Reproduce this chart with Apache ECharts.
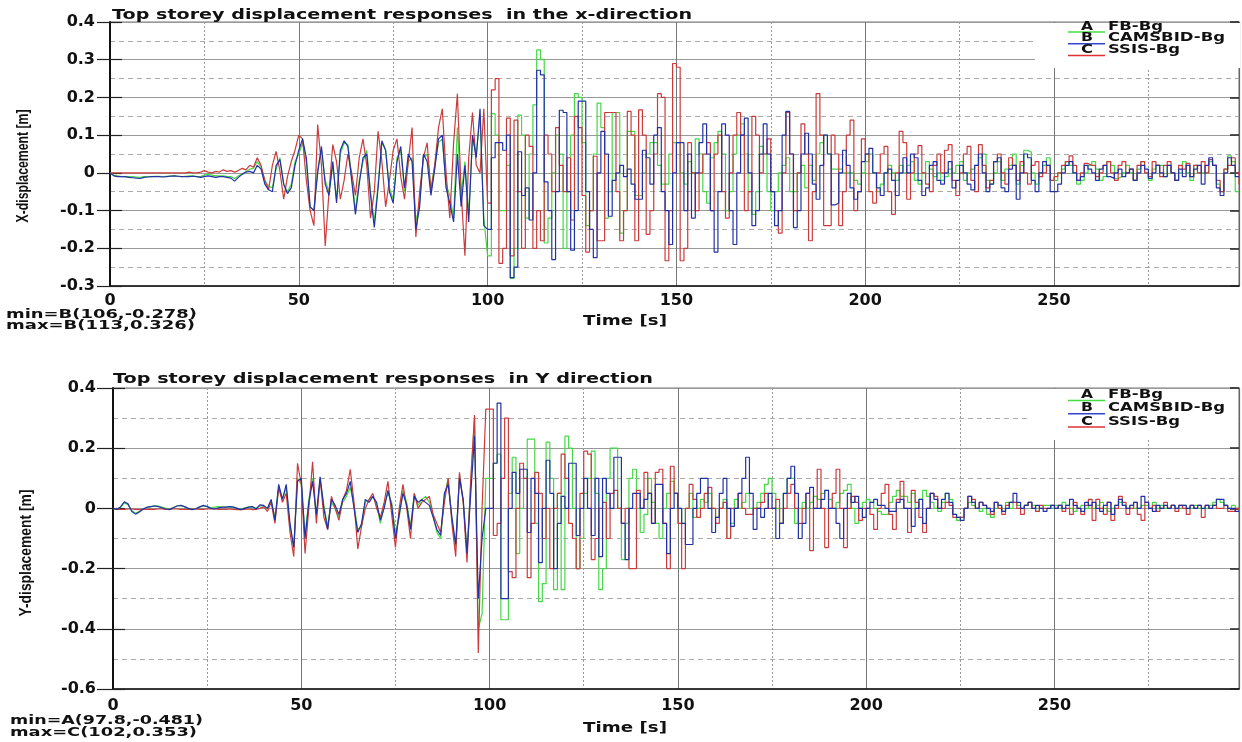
<!DOCTYPE html>
<html><head><meta charset="utf-8">
<script src="https://cdn.jsdelivr.net/npm/echarts@6/dist/echarts.min.js"></script>
<style>html,body{margin:0;padding:0;background:#fff}#c{width:1242px;height:742px}</style>
</head><body><div id="c"></div>
<script>
// sampling grid (s): one sample per second, 0..299
const timeStep = 1;
const time = Array.from({length: 300}, (_, i) => i * timeStep);

// ---------- X-direction (top panel), metres ----------
const xFB = [
0,-.006,-.008,-.01,-.01,-.01,-.01,-.011,-.012,-.01,
-.01,-.01,-.009,-.009,-.01,-.009,-.008,-.008,-.009,-.01,
-.009,-.008,-.008,-.01,-.01,-.006,-.004,-.006,-.008,-.008,
-.008,-.01,-.01,-.015,-.008,-.003,.003,.01,.012,.03,
.015,-.02,-.035,-.04,.01,.04,-.03,-.05,-.03,.03,
.05,.08,.03,-.09,-.1,.01,.06,-.02,-.05,.02,
-.07,.05,.08,.075,-.01,-.1,-.02,.03,.06,-.05,
-.13,-.03,.08,.06,-.04,-.07,.04,.06,-.05,.03,
.04,-.13,-.08,.04,.05,-.04,.02,.08,.09,-.03,
-.06,-.12,.12,-.06,.03,-.11,.09,.05,.15,-.12,
-.22,.157,.1,-.1,-.1,.02,-.28,-.2,.153,.1,
-.12,.05,.18,.326,.3,-.186,-.12,0,.1,.05,
-.2,-.05,.1,.21,.2,.08,-.14,-.1,.05,.185,
.12,-.12,-.05,.16,.16,-.16,-.1,.11,.11,-.06,
-.06,0,.05,.08,.08,.02,-.03,-.03,.05,.08,
.08,0,-.03,.03,0,.09,.05,-.05,-.08,.04,
.08,.11,.05,-.1,-.05,.05,.1,.13,.05,-.05,
-.11,-.05,.07,.05,-.05,-.1,-.05,0,.02,.04,
-.05,-.05,0,.02,-.04,.02,-.02,.05,.08,.1,
.05,.01,.01,.01,0,0,0,-.02,-.03,0,
.03,.05,0,-.05,-.03,0,.02,0,-.02,.02,
0,.02,.03,-.02,-.03,0,.03,.01,-.01,0,
-.02,-.01,.01,0,.02,.03,-.02,0,.01,.02,
.04,.05,-.02,-.03,0,.03,-.02,.01,.02,.05,
-.03,.02,.06,.055,0,-.03,0,.02,.04,-.02,
-.02,0,.01,.03,.02,0,-.03,-.02,0,.02,
.03,.01,-.02,-.01,.03,.02,-.015,-.01,0,.02,
0,-.02,.01,.03,0,-.02,.01,.02,.02,-.01,
.02,0,-.02,0,.03,0,-.02,.02,0,0,
0,.03,.02,-.03,-.05,.01,.045,.03,-.05,-.05];

const xCAMSBID = [
0,-.008,-.01,-.01,-.01,-.012,-.013,-.014,-.015,-.012,
-.011,-.01,-.01,-.01,-.011,-.01,-.009,-.008,-.009,-.01,
-.01,-.01,-.009,-.01,-.012,-.01,-.008,-.01,-.012,-.01,
-.01,-.012,-.014,-.022,-.012,-.004,.002,.004,0,.02,
.01,-.03,-.045,-.05,.02,.035,-.03,-.055,-.04,.02,
.06,.09,.04,-.09,-.1,0,.07,-.03,-.06,.03,
-.08,.06,.085,.07,-.02,-.11,-.03,.04,.05,-.06,
-.145,-.04,.085,.06,-.05,-.08,.03,.07,-.04,.05,
.03,-.15,-.09,.05,.03,-.06,.01,.09,.1,-.04,
-.08,-.13,.05,-.09,.02,-.13,.1,.04,.17,-.14,
-.15,.04,.08,.08,.06,.1,-.278,-.25,.056,-.06,
-.04,-.125,0,.272,.26,-.024,-.1,-.23,-.05,.166,
.16,-.05,-.205,-.1,.19,.19,-.05,-.15,-.225,0,
.11,.05,-.115,-.02,0,.02,-.01,.01,-.03,-.07,
-.07,.06,.04,-.03,.1,.12,-.05,-.1,-.19,0,
.08,.08,-.1,.05,-.12,0,.08,.13,.05,-.1,
-.21,-.05,.13,.1,-.1,-.19,0,.1,.145,0,
-.14,-.1,.05,.13,.05,-.05,-.14,-.1,.1,.163,
.05,-.145,-.1,.05,.105,.05,-.03,-.07,.02,.1,
.05,-.085,-.08,0,.06,.02,-.04,-.07,-.05,.03,
.05,.065,0,-.04,-.06,0,.01,-.02,-.06,0,
.04,0,.05,.04,-.02,-.06,-.04,.02,.03,-.02,
-.03,0,.03,-.04,-.02,.02,0,-.03,-.045,.02,
.05,0,-.05,-.03,.03,.04,-.04,-.05,.01,.02,
-.07,0,.05,.04,-.02,-.05,0,.03,.02,-.05,
-.05,-.03,0,.02,.03,0,-.02,-.01,.02,.01,
0,-.02,.01,.02,-.01,-.015,0,.01,-.01,0,
.01,-.02,0,.02,.01,-.015,0,.02,0,-.01,
.02,0,-.02,.01,-.01,.02,-.01,.01,.02,-.03,
.02,.04,.02,-.04,-.06,0,.04,.02,-.01,-.01];

const xSSIS = [
0,0,0,0,0,0,0,0,0,0,
0,0,0,0,0,0,0,0,0,0,
0,.002,0,0,.002,.006,.002,0,.004,.002,
.008,.004,.006,.002,.006,.012,.008,.02,.015,.04,
.02,-.02,-.045,.02,.057,.005,-.07,-.01,.03,.06,
.1,.09,-.02,-.1,-.14,.128,.02,-.194,-.05,.075,
.03,-.07,-.02,.05,0,-.06,.04,.09,.02,-.12,
-.05,.11,.03,-.09,-.02,.06,.09,-.01,-.07,.03,
.12,-.17,-.05,.04,.08,-.05,.02,.12,.17,0,
-.12,.08,.21,-.05,-.22,.04,.16,.02,0,.17,
-.08,.22,.25,-.24,-.2,.145,-.22,.14,-.05,-.2,
.1,.07,-.2,-.1,-.18,.1,.05,-.05,.12,.02,
-.05,.04,-.125,.15,.12,-.06,-.21,-.1,.044,-.18,
-.18,.16,.16,.16,-.05,-.18,-.1,.163,.1,-.18,
.167,.1,-.163,-.1,.05,.21,.2,-.233,-.1,.29,
.28,-.233,-.2,.08,0,-.1,0,.05,.08,-.1,
.05,.1,-.05,-.12,0,.1,.16,.1,-.1,-.05,
.15,.1,0,.05,.09,-.05,-.1,-.16,0,.16,
.05,-.1,0,.13,.05,-.18,-.05,.21,.1,-.14,
-.14,.1,.05,-.14,-.05,.1,.14,-.1,-.05,.09,
.05,-.05,-.08,0,.05,.07,-.05,-.11,0,.11,
.08,-.07,0,.05,.072,0,-.03,-.05,.02,.05,
0,.06,.075,-.02,-.06,0,.05,.07,-.02,-.05,
.075,.02,-.04,-.02,.03,.05,0,-.03,.04,.02,
-.02,.03,0,-.03,.02,.03,-.01,0,.02,-.02,
-.01,0,.02,.03,.045,.02,-.02,0,.025,.02,
.02,-.01,0,.02,.03,0,-.02,.02,.03,0,
.01,-.02,.02,.03,0,-.01,.03,.02,-.01,.02,
.03,0,-.02,.02,.01,.025,-.01,.02,0,.03,
0,.035,.02,-.02,-.05,.01,.02,.04,0,-.03];

// ---------- Y-direction (bottom panel), metres ----------
const yFB = [
0,-.002,.004,.018,.012,-.008,-.016,-.01,-.002,.003,
.005,.009,.008,.004,0,-.003,.003,.008,.01,.005,
0,-.002,0,.004,.008,.006,.002,.004,.006,.004,
.004,.005,.004,0,-.002,.002,.004,.004,0,.008,
.008,0,.025,-.03,.07,.03,.07,-.06,-.13,.1,
.08,-.09,.03,.1,-.03,.095,.01,-.06,.02,0,
-.03,.02,.04,.07,.01,-.07,-.06,.02,.03,.04,
.01,-.05,.01,.05,.02,-.08,-.03,.06,.02,-.06,
.05,.01,.03,.04,.02,-.02,-.08,-.1,.04,.1,
-.04,-.13,.11,.02,-.14,.08,.3,-.4,-.35,.1,
.1,.15,.18,-.37,-.37,.05,.17,-.15,0,.1,
.23,.23,-.05,-.31,-.25,.22,.1,-.27,.05,-.27,
.24,.2,0,-.2,-.1,.05,.1,.19,.05,-.27,
-.2,.1,.2,.2,0,-.17,-.05,.1,.13,0,
-.08,-.02,.1,.02,-.05,-.1,0,.05,.09,.05,
0,-.05,0,.05,-.03,0,.03,.02,.05,0,
-.03,0,.03,-.1,-.05,.03,0,.02,.05,0,
0,.02,.05,.08,.1,.05,0,-.05,.05,.1,
.1,-.05,0,.02,0,.02,.04,.03,.05,.06,
.03,0,.02,.05,.06,.08,0,-.05,0,.02,
.03,.02,0,-.01,-.02,-.02,.02,.04,.06,.04,
.04,.02,.05,0,.03,.06,.04,.02,0,-.01,
.02,.05,.03,-.02,-.04,-.03,0,.02,.01,0,
-.01,0,-.02,-.03,0,.01,-.01,.02,0,.02,
.01,0,.01,.02,.01,-.01,0,.01,.01,0,
.01,0,.02,.01,0,-.01,0,.01,0,.01,
0,.01,.02,0,-.01,0,.01,.02,.01,0,
.01,0,0,.01,.01,0,.02,0,.01,0,
0,.01,0,0,.01,0,0,.01,0,0,
0,.01,.02,.03,.02,.01,0,.01,0,-.01];

const yCAMSBID = [
0,-.003,.005,.022,.015,-.01,-.019,-.012,-.002,.004,
.006,.008,.006,.002,-.002,-.004,.002,.008,.01,.006,
0,-.004,-.002,.005,.01,.006,0,-.002,.002,.004,
.004,.006,.004,0,-.004,0,.004,.006,-.002,.012,
.01,0,.03,-.04,.08,.03,.08,-.05,-.13,.09,
.1,-.1,.02,.09,-.02,.105,0,-.07,.03,.01,
-.02,.03,.05,.09,0,-.08,-.05,.03,.02,.04,
.02,-.04,0,.06,.01,-.1,-.02,.05,.01,-.07,
.04,.02,.03,.02,.01,-.03,-.07,-.09,.05,.08,
-.03,-.12,.1,.03,-.15,.05,.24,-.3,-.1,0,
0,.15,.35,-.3,-.3,0,.12,.05,.13,.13,
-.08,.1,.05,-.18,0,.16,.05,-.2,-.05,.04,
0,.15,.15,-.09,0,.1,0,-.09,.1,-.16,
.1,.05,0,.17,.17,-.05,-.17,0,.05,.05,
0,.03,.05,-.05,.08,.08,-.05,-.15,0,.05,
0,-.05,-.12,-.12,0,.05,.1,.1,0,-.08,
-.03,.05,.1,0,-.06,0,.05,.1,.17,.05,
-.07,0,-.03,0,.05,0,-.1,-.05,.05,.1,
.14,.05,-.1,-.05,.05,.07,0,0,.03,.06,
0,0,-.05,-.1,0,.05,.02,.04,0,-.03,
0,.02,.03,.01,.01,0,-.01,-.01,.02,.03,
0,0,-.06,0,.03,-.05,0,.05,.03,0,
.03,.05,.02,-.02,-.03,-.04,0,.04,.02,0,
.02,.01,0,-.01,.02,.01,-.01,0,.02,.05,
.02,0,.01,.02,0,.01,0,-.01,0,.01,
0,.01,0,.01,.03,.01,0,-.01,.02,.01,
.02,0,-.01,.01,.02,-.02,.01,.03,.01,0,
.01,.02,0,.04,.02,0,-.01,.01,0,.01,
0,.01,0,.01,.01,0,.01,0,.01,0,
.01,0,.01,.03,.03,.01,0,0,-.01,-.01];

const ySSIS = [
0,-.003,-.003,-.003,-.002,-.002,-.003,-.004,-.003,-.003,
-.003,-.003,-.002,-.002,-.003,-.003,-.002,-.002,-.003,-.003,
-.003,-.002,-.002,-.003,-.003,-.002,-.002,-.002,-.003,-.003,
-.003,-.002,-.003,-.004,-.004,-.003,-.002,-.004,-.003,0,
.005,-.01,.02,-.05,.07,.02,.05,-.08,-.16,.15,
.08,-.15,0,.155,-.05,.1,-.03,-.07,.04,0,
-.04,.03,.06,.13,.02,-.135,-.06,0,.03,.05,
0,-.03,.02,.09,-.02,-.13,0,.08,0,-.1,
.05,0,.02,.03,.04,-.02,-.05,-.08,.02,.1,
-.05,-.16,.12,.02,-.18,.1,.31,-.48,0,.33,
.33,-.09,-.05,.1,.3,-.21,-.23,0,.15,.1,
-.23,-.05,.12,.05,-.1,0,-.2,0,.05,.18,
.1,-.05,-.1,-.2,.05,.19,.18,-.17,-.1,0,
.02,-.1,.05,.06,0,-.05,0,-.2,-.2,.06,
0,.12,.05,-.05,.12,.13,-.05,-.2,.14,.05,
-.05,-.2,0,.08,.03,-.03,0,.05,.07,0,
-.05,0,.02,-.1,0,0,.05,0,-.02,-.02,
0,0,.02,.05,0,0,.03,-.05,0,.05,
.08,0,-.05,0,.05,-.14,0,.13,0,-.13,
0,.05,.13,0,-.13,0,.04,.02,-.04,0,
0,-.02,-.07,0,.05,.08,-.02,-.07,.03,.09,
0,-.08,.06,.02,-.03,-.08,0,.05,.04,0,
0,.02,.01,-.03,-.03,-.03,0,.04,.03,0,
.02,.01,0,-.02,.02,0,-.02,.01,.02,.02,
0,-.02,.01,.02,0,-.01,.01,0,0,.01,
0,.01,-.01,0,-.02,.02,0,-.02,.01,.03,
-.04,.03,0,-.02,.02,-.04,0,.04,.02,-.02,
0,.02,-.02,-.04,.02,0,.01,-.01,0,.02,
0,.01,-.01,.01,0,-.02,.01,0,.01,-.03,
.01,0,.01,0,0,.01,-.01,-.01,0,-.01];

// tick values / labels
const xTicks = [0, 50, 100, 150, 200, 250];
const seriesNames = ['FB-Bg', 'CAMSBID-Bg', 'SSIS-Bg'];
const seriesLetters = ['A', 'B', 'C'];
const colors = ['#46d846', '#2232a6', '#cc3b3b'];
const legendColors = ['#44dd44', '#3344cc', '#dd3333'];
// the solver output switches to a held (stepped) record from this time on
const stepFrom = 100;

const chart = echarts.init(document.getElementById('c'), null, {renderer: 'canvas'});
const ctx = document.createElement('canvas').getContext('2d');
const FONT = '"DejaVu Sans", Verdana, sans-serif';

function fitText(text, x, y, size, targetW, opt) {
  opt = opt || {};
  const family = opt.family || FONT;
  const font = 'bold ' + size + 'px ' + family;
  ctx.font = font;
  const w = ctx.measureText(text).width;
  return {
    type: 'text', x: x, y: y, z: 10,
    rotation: opt.rotation || 0,
    scaleX: targetW / w,
    style: {text: text, font: font, fill: '#111',
      textAlign: opt.align || 'left', textVerticalAlign: 'middle'}
  };
}

const gridCommonX = (gi, margin) => ({
  type: 'value', gridIndex: gi, min: 0, max: 299, interval: 50,
  axisLine: {onZero: false, lineStyle: {color: '#111', width: 1.5}},
  axisTick: {show: false},
  axisLabel: {margin: margin, color: '#111', fontSize: 16, fontWeight: 'bold', fontFamily: FONT,
    formatter: v => xTicks.indexOf(v) >= 0 ? String(v) : ''},
  splitLine: {show: true, lineStyle: {color: '#777', width: 1}},
  minorTick: {show: false, splitNumber: 2},
  minorSplitLine: {show: true, lineStyle: {color: '#999', type: [2, 2], width: 1}}
});

function yAxes(gi, min, max, interval, tickLen, margin) {
  return [
    {type: 'value', gridIndex: gi, min: min, max: max, interval: interval,
      axisLine: {onZero: false, lineStyle: {color: '#111', width: 2}},
      axisTick: {show: true, inside: false, length: tickLen, lineStyle: {color: '#222', width: 1.2}},
      axisLabel: {margin: margin, color: '#111', fontSize: 16, fontWeight: 'bold', fontFamily: FONT,
        formatter: v => String(+(+v).toFixed(1))},
      splitLine: {show: true, lineStyle: {color: '#999', width: 1}},
      minorTick: {show: false, splitNumber: 2},
      minorSplitLine: {show: true, lineStyle: {color: '#aaa', type: [5, 4], width: 1}}},
    {type: 'value', gridIndex: gi, position: 'left', min: min, max: max, interval: interval,
      axisLine: {show: false}, axisLabel: {show: false}, splitLine: {show: false},
      axisTick: {show: true, inside: true, length: 12, lineStyle: {color: '#222', width: 1.2}}},
    {type: 'value', gridIndex: gi, position: 'right', min: min, max: max, interval: interval,
      axisLine: {show: true, onZero: false, lineStyle: {color: '#666', width: 1.2}},
      axisLabel: {show: false}, splitLine: {show: false},
      axisTick: {show: true, inside: true, length: 9, lineStyle: {color: '#222', width: 1.5}}}
  ];
}

function mkSeries(arr, ci, gi, stepped) {
  const pts = time.map((t, i) => [t, arr[i]])
    .filter(p => stepped ? p[0] >= stepFrom : p[0] <= stepFrom);
  return {
    type: 'line', name: seriesNames[ci] + (gi ? ' (Y)' : ' (X)'),
    xAxisIndex: gi, yAxisIndex: gi * 3, step: stepped ? 'end' : false,
    symbol: 'none', showSymbol: false, animation: false,
    lineStyle: {color: colors[ci], width: 1.2}, itemStyle: {color: colors[ci]},
    z: 3 + (ci === 1 ? 2 : ci === 2 ? 1 : 0),
    data: pts
  };
}

function legendBlock(x0, y0, rowH, w, h, lineY) {
  const els = [{type: 'rect', z: 1, shape: {x: x0, y: y0, width: w, height: h}, style: {fill: '#fff'}}];
  for (let i = 0; i < 3; i++) {
    const ly = lineY + i * rowH;
    els.push({type: 'line', z: 10, shape: {x1: 1068, y1: ly, x2: 1105, y2: ly},
      style: {stroke: legendColors[i], lineWidth: 1.5}});
    els.push(fitText(seriesLetters[i], 1081, ly - 5.5, 12, 12));
    const targetW = [55, 117, 72][i];
    els.push(fitText(seriesNames[i], 1108, ly - 5.5, 12, targetW));
  }
  return els;
}

const graphics = [
  fitText('Top storey displacement responses  in the x-direction', 112, 15, 14, 580),
  fitText('Top storey displacement responses  in Y direction', 113, 379, 14, 540),
  fitText('X-displacement [m]', 24, 166, 16, 113, {rotation: Math.PI / 2, align: 'center', family: '"Liberation Sans Narrow", "Liberation Sans", sans-serif'}),
  fitText('Y-displacement [m]', 27, 553, 16, 127, {rotation: Math.PI / 2, align: 'center', family: '"Liberation Sans Narrow", "Liberation Sans", sans-serif'}),
  fitText('Time [s]', 583, 321, 14, 84),
  fitText('Time [s]', 583, 728, 14, 84),
  fitText('min=B(106,-0.278)', 6, 315, 13, 191),
  fitText('max=B(113,0.326)', 6, 325.5, 13, 189),
  fitText('min=A(97.8,-0.481)', 10, 721, 13, 193),
  fitText('max=C(102,0.353)', 10, 733, 13, 187)
].concat(legendBlock(1035, 23, 11.8, 205, 45, 32))
 .concat(legendBlock(1031, 389, 13.3, 207, 51, 400.5));

const series = [];
[false, true].forEach(st => {
  series.push(mkSeries(xFB, 0, 0, st), mkSeries(xSSIS, 2, 0, st), mkSeries(xCAMSBID, 1, 0, st));
  series.push(mkSeries(yFB, 0, 1, st), mkSeries(ySSIS, 2, 1, st), mkSeries(yCAMSBID, 1, 1, st));
});

const option = {
  animation: false,
  backgroundColor: '#fff',
  grid: [
    {left: 110, top: 22, width: 1130, height: 264, show: true, borderColor: '#777', borderWidth: 1},
    {left: 113, top: 388, width: 1126, height: 301, show: true, borderColor: '#777', borderWidth: 1}
  ],
  xAxis: [gridCommonX(0, 7), gridCommonX(1, 9)],
  yAxis: yAxes(0, -0.3, 0.4, 0.1, 13, 15).concat(yAxes(1, -0.6, 0.4, 0.2, 16, 17)),
  series: series,
  graphic: graphics
};
chart.setOption(option);
</script>
</body></html>
